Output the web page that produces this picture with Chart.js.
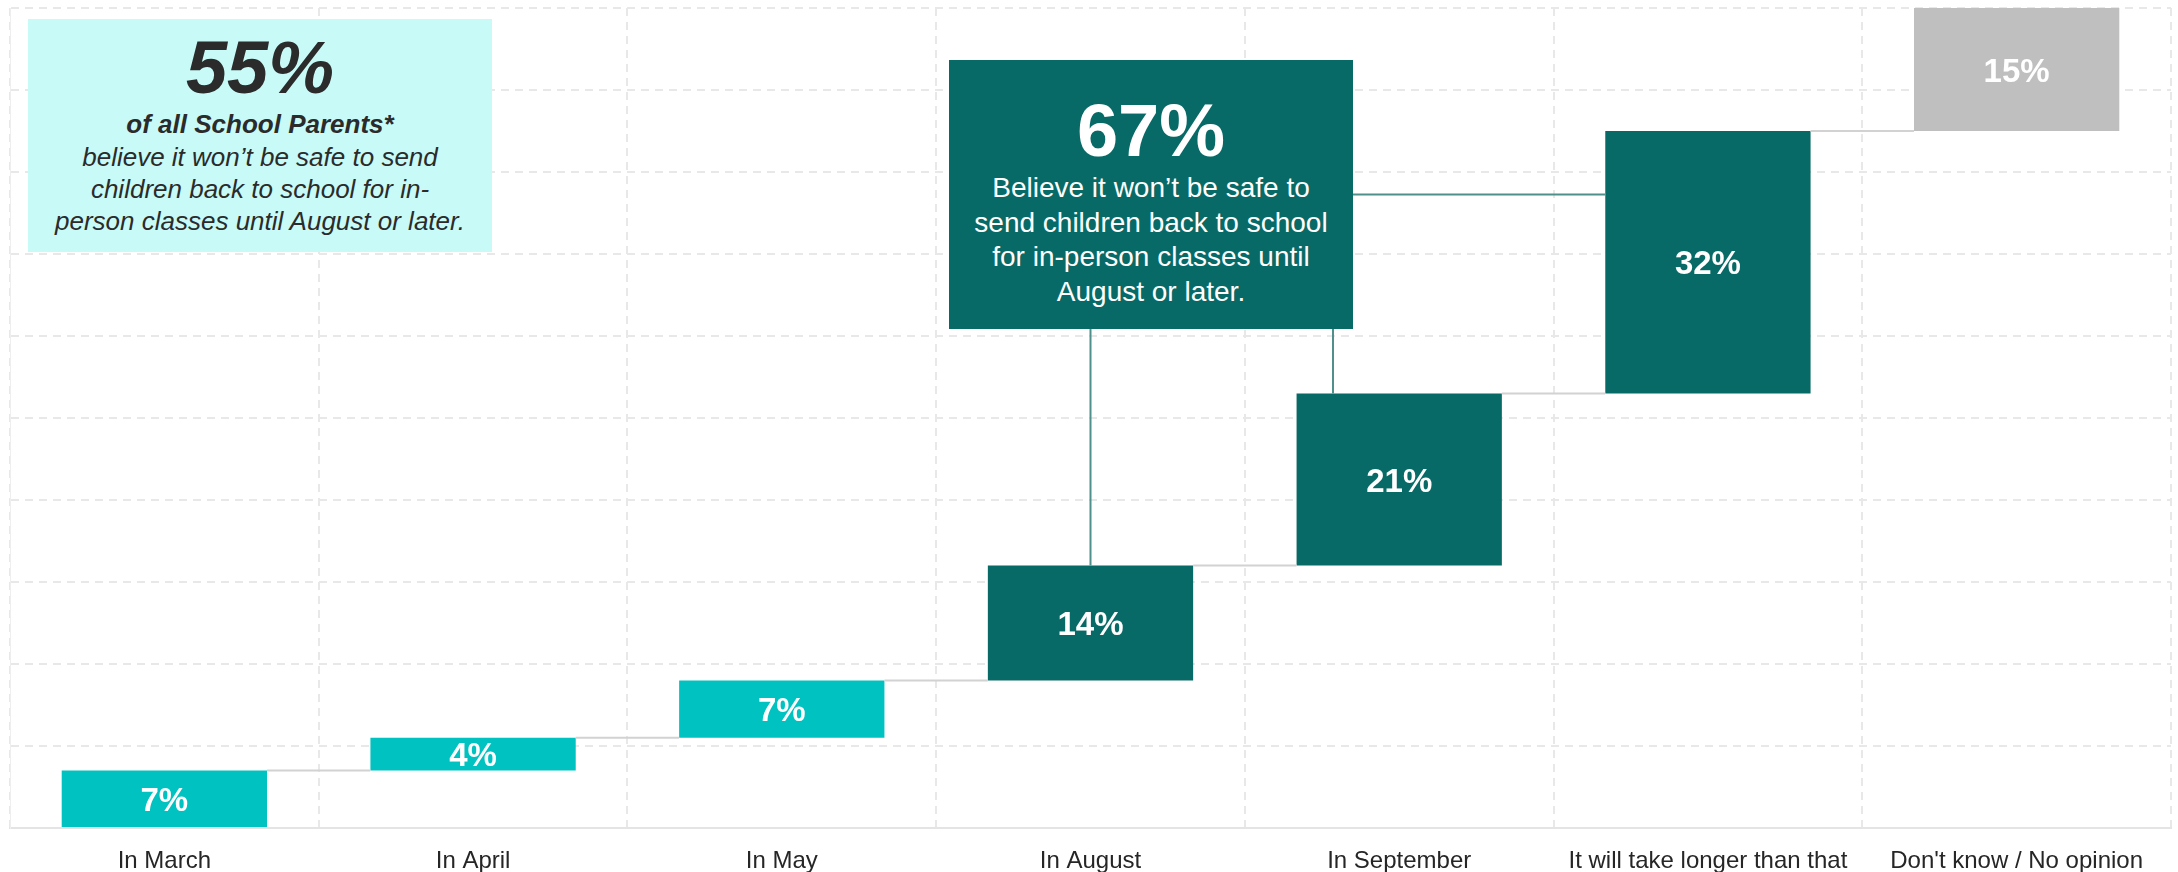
<!DOCTYPE html>
<html>
<head>
<meta charset="utf-8">
<script src="https://cdn.jsdelivr.net/npm/chart.js@4.4.1/dist/chart.umd.min.js"></script>
<style>
  html, body { margin: 0; padding: 0; background: #fff; }
  #wrap { position: relative; width: 2178px; height: 872px; }
  .callout {
    position: absolute;
    box-sizing: border-box;
    text-align: center;
    font-family: 'Liberation Sans', Arial, sans-serif;
  }
  #allParents { background: #c8fbf8; color: #2b2b2b; font-style: italic; }
  #allParents .big { font-size: 74px; font-weight: bold; line-height: 80px; }
  #allParents .sub { font-size: 26px; font-weight: bold; line-height: 33px; }
  #allParents .txt { font-size: 26px; line-height: 32px; }
  #laterShare { background: #086a66; color: #fff; }
  #laterShare .big { font-size: 74px; font-weight: bold; line-height: 80px; }
  #laterShare .txt { font-size: 28px; line-height: 34.5px; }
</style>
</head>
<body>
<div id="wrap">
  <canvas id="chart"></canvas>
  <div class="callout" id="allParents">
    <div class="big">55%</div>
    <div class="sub">of all School Parents*</div>
    <div class="txt">believe it won’t be safe to send<br>children back to school for in-<br>person classes until August or later.</div>
  </div>
  <div class="callout" id="laterShare">
    <div class="big">67%</div>
    <div class="txt">Believe it won’t be safe to<br>send children back to school<br>for in-person classes until<br>August or later.</div>
  </div>
</div>
<script>
const categories = [
  'In March',
  'In April',
  'In May',
  'In August',
  'In September',
  'It will take longer than that',
  "Don't know / No opinion",
];
const shares = [7, 4, 7, 14, 21, 32, 15];
const barColors = ['#00c2c0', '#00c2c0', '#00c2c0', '#086a66', '#086a66', '#086a66', '#bfbfbf'];
const yMin = 0;
const yMax = 100;
const yStep = 10;

const FONT = "'Liberation Sans', Arial, sans-serif";
const GRID_COLOR = '#e8e8e8';
const LINK_COLOR = '#4f8f8c';

// callout boxes (annotation layout, pixels)
const allParentsBox = { left: 28, top: 19, width: 464, height: 233, padTop: 9 };
const laterBox = { left: 949, top: 60, width: 404, height: 269, padTop: 31 };

function placeBox(id, box) {
  const el = document.getElementById(id);
  el.style.left = `${box.left}px`;
  el.style.top = `${box.top}px`;
  el.style.width = `${box.width}px`;
  el.style.height = `${box.height}px`;
  el.style.paddingTop = `${box.padTop}px`;
}
placeBox('allParents', allParentsBox);
placeBox('laterShare', laterBox);

// waterfall ranges from the shares
let running = 0;
const ranges = shares.map((v) => {
  const r = [running, running + v];
  running += v;
  return r;
});

const waterfallExtras = {
  id: 'waterfallExtras',
  afterDatasetsDraw(chart) {
    const { ctx } = chart;
    const bars = chart.getDatasetMeta(0).data;

    // grey steps between bars
    ctx.save();
    ctx.strokeStyle = '#d2d2d2';
    ctx.lineWidth = 2;
    for (let i = 0; i < bars.length - 1; i += 1) {
      const a = bars[i];
      const b = bars[i + 1];
      ctx.beginPath();
      ctx.moveTo(a.x + a.width / 2, b.base);
      ctx.lineTo(b.x - b.width / 2, b.base);
      ctx.stroke();
    }
    ctx.restore();

    // labels inside bars
    ctx.save();
    ctx.fillStyle = '#ffffff';
    ctx.font = `bold 33px ${FONT}`;
    ctx.textAlign = 'center';
    ctx.textBaseline = 'middle';
    bars.forEach((bar, i) => {
      ctx.fillText(`${shares[i]}%`, bar.x, (bar.y + bar.base) / 2 + 3);
    });
    ctx.restore();

    // teal leader lines from the 67% callout
    const boxBottom = laterBox.top + laterBox.height;
    const boxRight = laterBox.left + laterBox.width;
    const aug = bars[3];
    const sep = bars[4];
    const longer = bars[5];
    ctx.save();
    ctx.strokeStyle = LINK_COLOR;
    ctx.lineWidth = 2;
    ctx.beginPath();
    ctx.moveTo(aug.x, boxBottom);
    ctx.lineTo(aug.x, aug.y);
    ctx.moveTo(boxRight - 20, boxBottom);
    ctx.lineTo(boxRight - 20, sep.y);
    ctx.moveTo(boxRight, laterBox.top + laterBox.height / 2);
    ctx.lineTo(longer.x - longer.width / 2, laterBox.top + laterBox.height / 2);
    ctx.stroke();
    ctx.restore();
  },
};

new Chart(document.getElementById('chart').getContext('2d'), {
  type: 'bar',
  data: {
    labels: categories,
    datasets: [{
      data: ranges,
      backgroundColor: barColors,
      borderWidth: 0,
      barPercentage: 1,
      categoryPercentage: 0.665,
    }],
  },
  options: {
    responsive: true,
    maintainAspectRatio: false,
    animation: false,
    layout: { padding: { left: 10, right: 7, top: 8, bottom: 0 } },
    plugins: {
      legend: { display: false },
      tooltip: { enabled: false },
    },
    scales: {
      x: {
        afterFit: (scale) => { scale.height = 44; },
        grid: { color: GRID_COLOR, lineWidth: 2, drawTicks: false, offset: true },
        border: { display: true, color: '#e4e4e4', width: 2, dash: [8, 6] },
        ticks: { color: '#262626', font: { family: FONT, size: 24 }, padding: 19, maxRotation: 0 },
      },
      y: {
        min: yMin,
        max: yMax,
        grid: { color: GRID_COLOR, lineWidth: 2, drawTicks: false },
        border: { display: true, color: '#eeeeee', width: 1, dash: [8, 6] },
        ticks: { display: false, stepSize: yStep },
      },
    },
  },
  plugins: [waterfallExtras],
});
</script>
</body>
</html>
